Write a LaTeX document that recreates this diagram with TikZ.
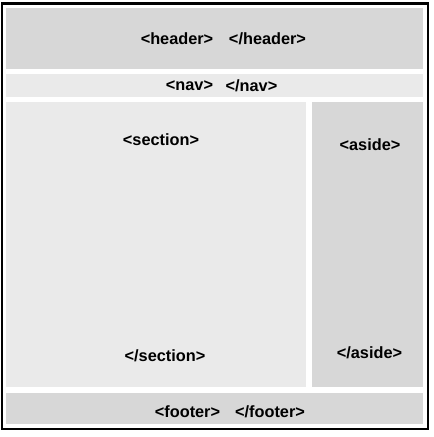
\documentclass[tikz,border=0pt]{standalone}
\usepackage{fontspec}
\setmainfont{Liberation Sans}
\definecolor{dark}{HTML}{D7D7D7}
\definecolor{light}{HTML}{EAEAEA}
\tikzset{
  tag/.style={font=\fontsize{16.3}{19}\selectfont\bfseries, inner sep=0pt, anchor=center, text=black}
}
\begin{document}
\begin{tikzpicture}[x=1pt,y=-1pt]
\useasboundingbox (0,0) rectangle (434,437);
\fill[white] (0,0) rectangle (434,437);
\draw[line width=2.5pt] (2,3.5) rectangle (428,429);
\fill[dark]  (6,8) rectangle (423,69);
\fill[light] (6,74) rectangle (423,97);
\fill[light] (6,102) rectangle (306,387);
\fill[dark]  (312,102) rectangle (423,387);
\fill[dark]  (6,393) rectangle (423,424);
\node[tag] (h1) at (177,39) {<header>};
\node[tag] (h2) at (267.5,39) {</header>};
\node[tag] (n1) at (189.5,86) {<nav>};
\node[tag] (n2) at (251.5,86) {</nav>};
\node[tag] (s1) at (161,140) {<section>};
\node[tag] (s2) at (165,356) {</section>};
\node[tag] (a1) at (370,145) {<aside>};
\node[tag] (a2) at (369.5,353) {</aside>};
\node[tag] (f1) at (187.5,412) {<footer>};
\node[tag] (f2) at (270,412) {</footer>};
\end{tikzpicture}
\end{document}
